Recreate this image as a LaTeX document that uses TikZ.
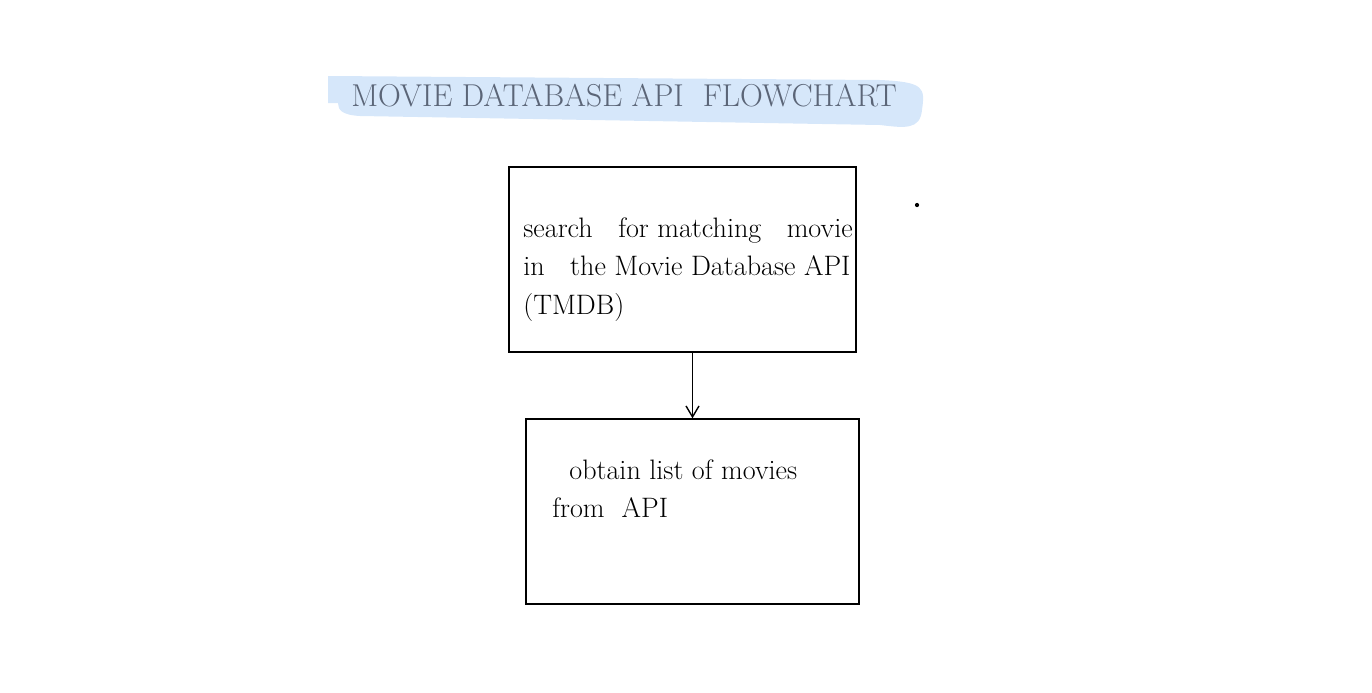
\documentclass[tikz,border=0pt]{standalone}
\usepackage{tikz}
\usetikzlibrary{arrows.meta, positioning}

\definecolor{hilite}{HTML}{D6E7FA}
\definecolor{titleink}{HTML}{5B6577}

\tikzset{
  stepbox/.style={draw, line width=.28mm, minimum width=6.94cm, minimum height=3.7cm, inner sep=0pt},
  boxtxt/.style={anchor=north west, align=left, inner sep=0pt, font=\fontsize{16}{22}\selectfont},
  flow/.style={->, >={Straight Barb[length=2.2mm, width=2.6mm]}, line width=.28mm}
}

\begin{document}
\begin{tikzpicture}[x=0.2mm, y=-0.2mm]
    % 全体の範囲
    \useasboundingbox (0,0) rectangle (1372,692);

    % タイトルのマーカー
    \fill[hilite] (328,76) -- (880,80) .. controls (925,82) and (925,88) .. (922,110)
      .. controls (920,130) and (905,128) .. (880,125) -- (360,116)
      .. controls (342,115) and (338,110) .. (338,103) -- (328,103) -- cycle;
    \node[text=titleink, font=\fontsize{18}{22}\selectfont] (title) at (624,96) {MOVIE DATABASE API\ \ FLOWCHART};

    % ステップ
    \node[stepbox] (search) at (682.5,259.5) {};
    \node[boxtxt] (searchtxt) at (523,217)
      {search\ \ \ for matching\ \ \ movie\\ in\ \ \ the Movie Database API\\ (TMDB)};

    \node[stepbox, minimum width=6.66cm] (movies) at (692.5,511.5) {};
    \node[boxtxt] (moviestxt) at (552,459)
      {\hspace{3.4mm}obtain\ list of movies\\ from\ \ API};

    % 矢印
    \draw[flow] (search.south -| movies.north) -- (movies.north);

    % 点
    \fill (917,205) circle (1.2pt);
\end{tikzpicture}
\end{document}
